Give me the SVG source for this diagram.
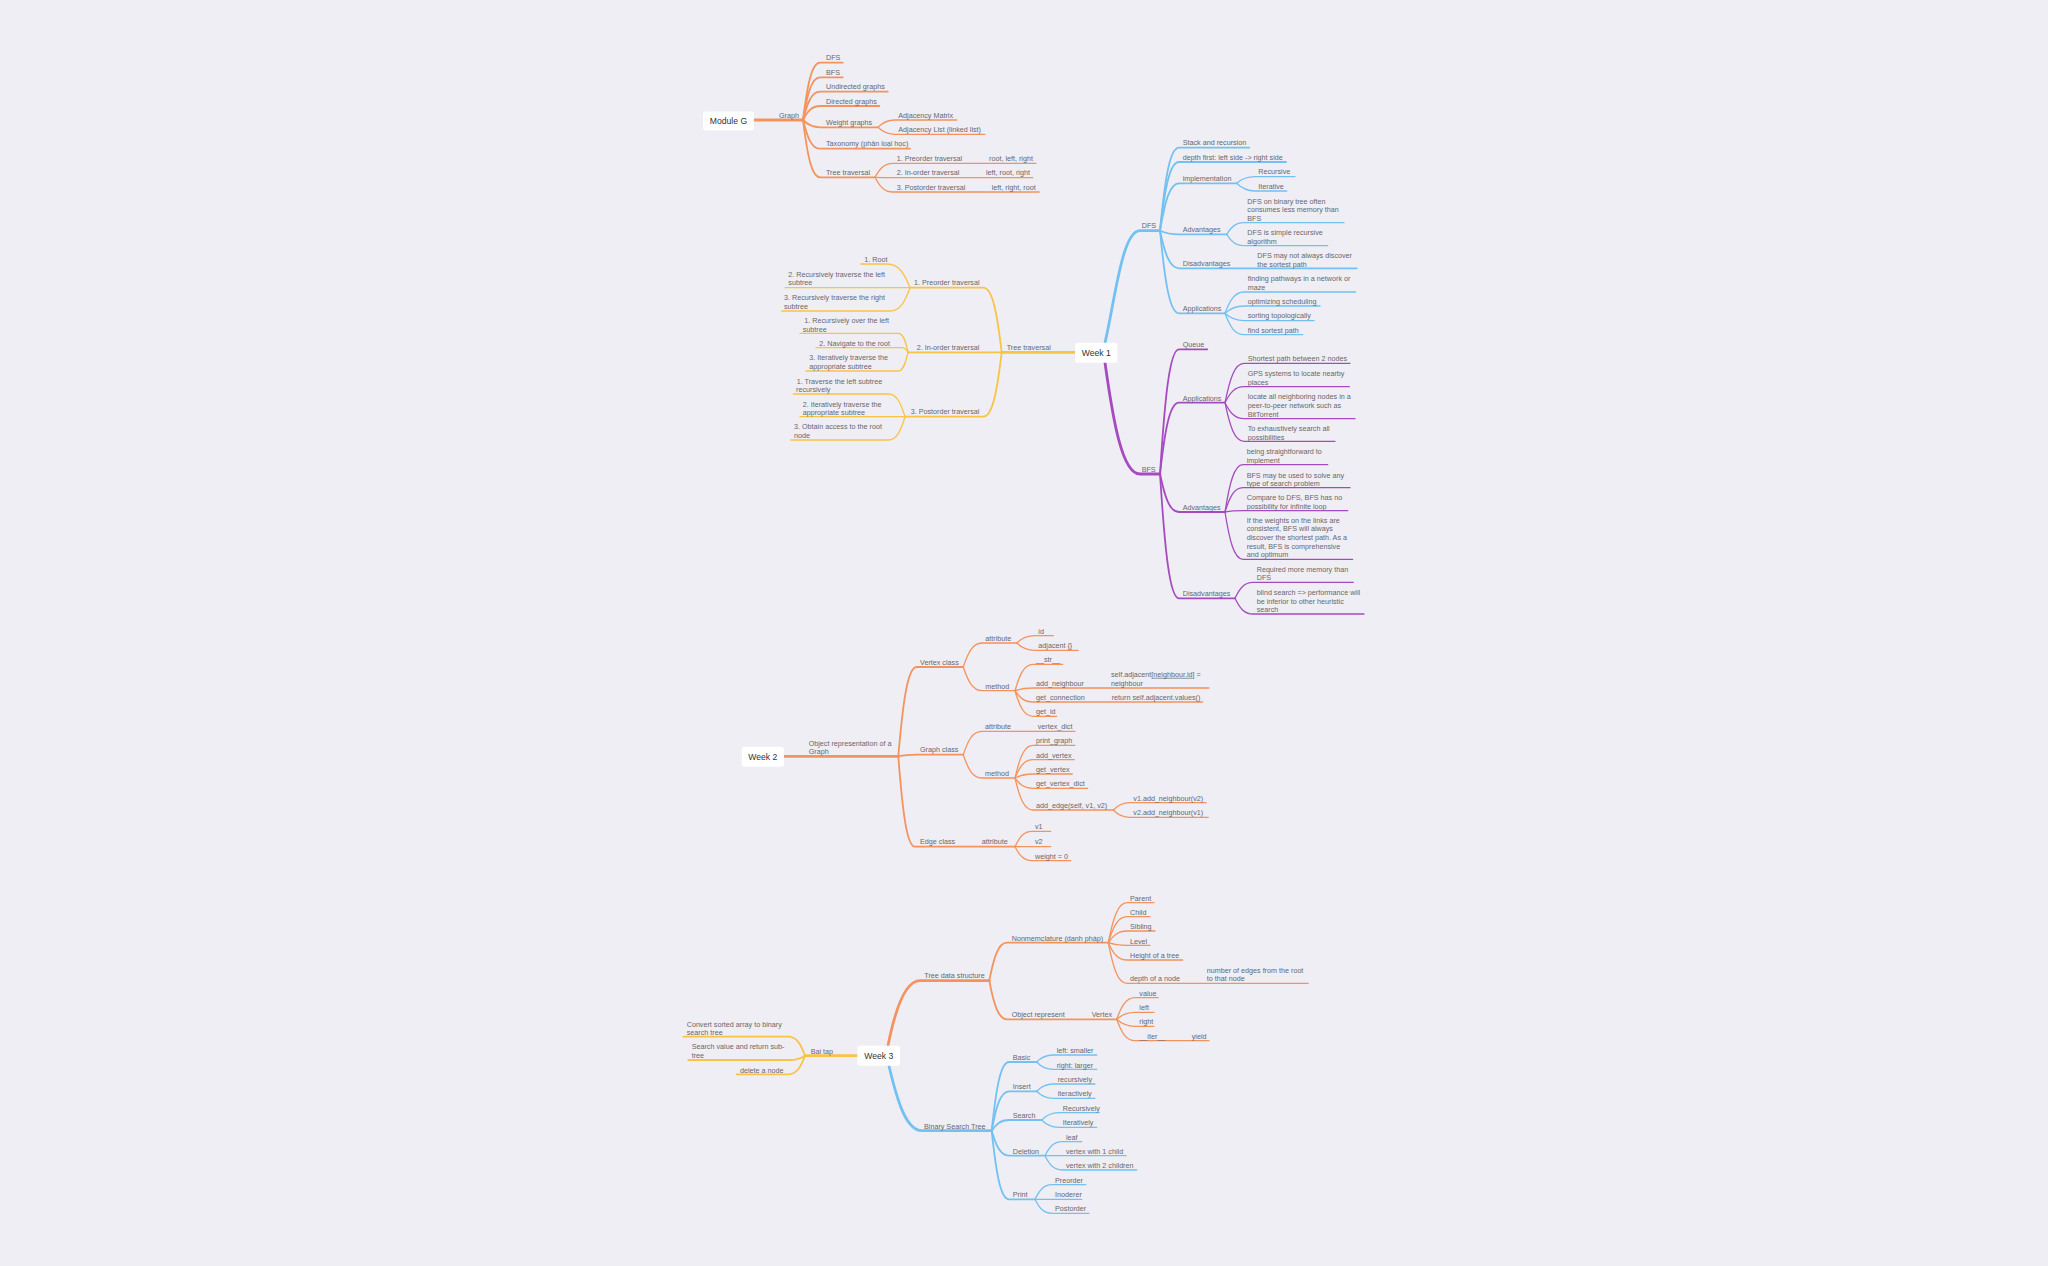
<svg xmlns="http://www.w3.org/2000/svg" width="2048" height="1266" viewBox="0 0 2048 1266">
<style>
.t{font-family:"Liberation Sans",Arial,sans-serif;font-size:7.2px;fill:#67676d}
.wk{font-family:"Liberation Sans",Arial,sans-serif;font-size:8.6px;fill:#333;text-anchor:middle}
.box{fill:#fff}
.c path{fill:none;stroke-linecap:round;stroke-linejoin:round}
.or path{stroke:#F4935D}
.ye path{stroke:#F8C446}
.bl path{stroke:#72C1F1}
.pu path{stroke:#A54BC0}
.w3{stroke-width:2.8}
.w2{stroke-width:1.8}
.w1{stroke-width:1.3}
</style>
<rect width="2048" height="1266" fill="#EFEEF4"/>
<g id="connectors" class="c">
<g class="or">
<path class="w3" d="M754 120 L803 120"/>
<path class="w2" d="M803 120 C807.3 85.6 811.5 62.7 820 62.7 L842.7 62.7"/>
<path class="w2" d="M803 120 C807.3 94.4 811.5 77.3 820 77.3 L842.7 77.3"/>
<path class="w2" d="M803 120 C807.3 103 811.5 91.7 820 91.7 L887.7 91.7"/>
<path class="w2" d="M803 120 C807.3 111.6 811.5 106 820 106 L879.3 106"/>
<path class="w2" d="M803 120 C807.3 124.4 811.5 127.3 820 127.3 L878 127.3"/>
<path class="w2" d="M803 120 C807.3 137.2 811.5 148.7 820 148.7 L910 148.7"/>
<path class="w2" d="M803 120 C807.3 154.4 811.5 177.3 820 177.3 L875 177.3"/>
<path class="w1" d="M878 127.3 C882.3 122.9 886.5 120 895 120 L956.7 120"/>
<path class="w1" d="M878 127.3 C882.3 131.5 886.5 134.3 895 134.3 L985 134.3"/>
<path class="w1" d="M875 177.3 C879.5 168.9 884 163.3 893 163.3 L1036 163.3"/>
<path class="w1" d="M875 177.3 C879.5 177.5 884 177.7 893 177.7 L1032.7 177.7"/>
<path class="w1" d="M875 177.3 C879.5 186.2 884 192 893 192 L1039.3 192"/>
</g>
<g class="ye">
<path class="w3" d="M1075 352.3 L1001.7 352.3"/>
<path class="w2" d="M1001.7 352.3 C997.1 313.5 992.5 287.7 983.3 287.7 L910 287.7"/>
<path class="w2" d="M1001.7 352.3 L908 352.3"/>
<path class="w2" d="M1001.7 352.3 C997.1 390.9 992.5 416.7 983.3 416.7 L905 416.7"/>
<path class="w1" d="M910 287.7 C904.3 273.5 898.7 264 887.3 264 L860.7 264"/>
<path class="w1" d="M910 287.7 L785 287.7"/>
<path class="w1" d="M910 287.7 C905 301.7 900 311 890 311 L781.7 311"/>
<path class="w1" d="M908 352.3 C905.6 340.9 903.2 333.3 898.3 333.3 L800 333.3"/>
<path class="w1" d="M908 352.3 C906.4 349.5 904.9 347.7 901.7 347.7 L816 347.7"/>
<path class="w1" d="M908 352.3 C905.5 363.5 903 371 898 371 L806 371"/>
<path class="w1" d="M905 416.7 C900.8 403.1 896.7 394 888.3 394 L793.3 394"/>
<path class="w1" d="M905 416.7 L800 416.7"/>
<path class="w1" d="M905 416.7 C900.8 430.7 896.7 440 888.3 440 L790.7 440"/>
</g>
<g class="bl">
<path class="w3" d="M1105 342.7 C1115 300 1122 230.7 1140 230.7 L1160 230.7"/>
<path class="w2" d="M1160 230.7 C1164.8 180.9 1169.5 147.7 1179 147.7 L1249.3 147.7"/>
<path class="w2" d="M1160 230.7 C1164.8 189.5 1169.5 162 1179 162 L1286 162"/>
<path class="w2" d="M1160 230.7 C1164.8 202.3 1169.5 183.3 1179 183.3 L1236.7 183.3"/>
<path class="w2" d="M1160 230.7 C1164.8 232.9 1169.5 234.3 1179 234.3 L1226.7 234.3"/>
<path class="w2" d="M1160 230.7 C1164.8 253.3 1169.5 268.3 1179 268.3 L1356.7 268.3"/>
<path class="w2" d="M1160 230.7 C1164.8 280.3 1169.5 313.3 1179 313.3 L1225 313.3"/>
<path class="w1" d="M1236.7 183.3 C1241.3 179.3 1245.9 176.7 1255 176.7 L1295 176.7"/>
<path class="w1" d="M1236.7 183.3 C1241.3 187.9 1245.9 191 1255 191 L1286.7 191"/>
<path class="w1" d="M1226.7 234.3 C1231 227.3 1235.4 222.7 1244 222.7 L1344 222.7"/>
<path class="w1" d="M1226.7 234.3 C1231 241.1 1235.4 245.7 1244 245.7 L1327.7 245.7"/>
<path class="w1" d="M1225 313.3 C1229.8 300.5 1234.5 292 1244 292 L1355.7 292"/>
<path class="w1" d="M1225 313.3 C1229.8 308.9 1234.5 306 1244 306 L1320 306"/>
<path class="w1" d="M1225 313.3 C1229.8 317.7 1234.5 320.7 1244 320.7 L1314 320.7"/>
<path class="w1" d="M1225 313.3 C1229.8 326.1 1234.5 334.7 1244 334.7 L1302.7 334.7"/>
</g>
<g class="pu">
<path class="w3" d="M1105 362.7 C1113 420 1122 474 1140 474 L1160 474"/>
<path class="w2" d="M1160 474 C1164.8 399.2 1169.5 349.3 1179 349.3 L1207.3 349.3"/>
<path class="w2" d="M1160 474 C1164.8 431.2 1169.5 402.7 1179 402.7 L1225 402.7"/>
<path class="w2" d="M1160 474 C1164.8 496.8 1169.5 512 1179 512 L1225 512"/>
<path class="w2" d="M1160 474 C1164.8 548.6 1169.5 598.3 1179 598.3 L1235 598.3"/>
<path class="w1" d="M1225 402.7 C1229.8 379.1 1234.5 363.3 1244 363.3 L1350 363.3"/>
<path class="w1" d="M1225 402.7 C1229.8 393.1 1234.5 386.7 1244 386.7 L1349.3 386.7"/>
<path class="w1" d="M1225 402.7 C1229.8 412.3 1234.5 418.7 1244 418.7 L1355 418.7"/>
<path class="w1" d="M1225 402.7 C1229.8 425.9 1234.5 441.3 1244 441.3 L1335 441.3"/>
<path class="w1" d="M1225 512 C1229.5 483.6 1234 464.7 1243 464.7 L1327.7 464.7"/>
<path class="w1" d="M1225 512 C1229.5 497.4 1234 487.7 1243 487.7 L1350 487.7"/>
<path class="w1" d="M1225 512 C1229.5 511.2 1234 510.7 1243 510.7 L1347.7 510.7"/>
<path class="w1" d="M1225 512 C1229.5 540.4 1234 559.3 1243 559.3 L1352.7 559.3"/>
<path class="w1" d="M1235 598.3 C1239.5 588.7 1244 582.3 1253 582.3 L1353.3 582.3"/>
<path class="w1" d="M1235 598.3 C1239.5 607.7 1244 614 1253 614 L1364 614"/>
</g>
<g class="or">
<path class="w3" d="M784 756.3 L898.3 756.3"/>
<path class="w2" d="M898.3 756.3 C902.9 702.7 907.5 667 916.7 667 L963.3 667"/>
<path class="w2" d="M898.3 756.3 C902.9 755.3 907.5 754.7 916.7 754.7 L963.3 754.7"/>
<path class="w2" d="M898.3 756.3 C902.5 810.5 906.7 846.7 915 846.7 L1015 846.7"/>
<path class="w1" d="M963.3 667 C968 652.6 972.7 643 982 643 L1016.7 643"/>
<path class="w1" d="M963.3 667 C968 681.2 972.7 690.7 982 690.7 L1015 690.7"/>
<path class="w1" d="M1016.7 643 C1021.3 638.6 1025.9 635.7 1035 635.7 L1053.3 635.7"/>
<path class="w1" d="M1016.7 643 C1021.3 647.4 1025.9 650.3 1035 650.3 L1078.3 650.3"/>
<path class="w1" d="M1015 690.7 C1019.5 674.9 1024 664.3 1033 664.3 L1062.7 664.3"/>
<path class="w1" d="M1015 690.7 C1019.5 689.1 1024 688 1033 688 L1209 688"/>
<path class="w1" d="M1015 690.7 C1019.5 697.5 1024 702 1033 702 L1202.7 702"/>
<path class="w1" d="M1015 690.7 C1019.5 706.1 1024 716.3 1033 716.3 L1056.7 716.3"/>
<path class="w1" d="M963.3 754.7 C967.9 740.7 972.5 731.3 981.7 731.3 L1075 731.3"/>
<path class="w1" d="M963.3 754.7 C967.9 768.7 972.5 778 981.7 778 L1015 778"/>
<path class="w1" d="M1015 778 C1019.5 758.4 1024 745.3 1033 745.3 L1075 745.3"/>
<path class="w1" d="M1015 778 C1019.5 767 1024 759.7 1033 759.7 L1074.3 759.7"/>
<path class="w1" d="M1015 778 C1019.5 775.6 1024 774 1033 774 L1072.3 774"/>
<path class="w1" d="M1015 778 C1019.5 784.2 1024 788.3 1033 788.3 L1087.7 788.3"/>
<path class="w1" d="M1015 778 C1019.5 797.2 1024 810 1033 810 L1113.3 810"/>
<path class="w1" d="M1113.3 810 C1117.5 805.6 1121.7 802.7 1130 802.7 L1206 802.7"/>
<path class="w1" d="M1113.3 810 C1117.5 814.4 1121.7 817.3 1130 817.3 L1208.3 817.3"/>
<path class="w1" d="M1015 846.7 C1019.3 837.5 1023.5 831.3 1032 831.3 L1050.7 831.3"/>
<path class="w1" d="M1015 846.7 L1050.7 846.7"/>
<path class="w1" d="M1015 846.7 C1019.3 855.1 1023.5 860.7 1032 860.7 L1070.7 860.7"/>
</g>
<g class="ye">
<path class="w3" d="M857.3 1055.7 L805 1055.7"/>
<path class="w2" d="M805 1055.7 C800.8 1044.3 796.7 1036.7 788.3 1036.7 L683.3 1036.7"/>
<path class="w2" d="M805 1055.7 C801.3 1058.3 797.5 1060 790 1060 L688.3 1060"/>
<path class="w2" d="M805 1055.7 C800.8 1066.9 796.7 1074.3 788.3 1074.3 L736.7 1074.3"/>
</g>
<g class="or">
<path class="w3" d="M888 1045.7 C897 1000 908 980.7 920 980.7 L989.3 980.7"/>
<path class="w2" d="M989.3 980.7 C993.7 957.9 998.2 942.7 1007 942.7 L1108.3 942.7"/>
<path class="w2" d="M989.3 980.7 C993.7 1003.9 998.2 1019.3 1007 1019.3 L1116.7 1019.3"/>
<path class="w1" d="M1108.3 942.7 C1113 918.7 1117.7 902.7 1127 902.7 L1154 902.7"/>
<path class="w1" d="M1108.3 942.7 C1113 927.1 1117.7 916.7 1127 916.7 L1150 916.7"/>
<path class="w1" d="M1108.3 942.7 C1113 935.7 1117.7 931 1127 931 L1155 931"/>
<path class="w1" d="M1108.3 942.7 C1113 944.3 1117.7 945.3 1127 945.3 L1150 945.3"/>
<path class="w1" d="M1108.3 942.7 C1113 953.1 1117.7 960 1127 960 L1182.7 960"/>
<path class="w1" d="M1108.3 942.7 C1113 967.1 1117.7 983.3 1127 983.3 L1308.3 983.3"/>
<path class="w1" d="M1116.7 1019.3 C1121.3 1006.3 1125.9 997.7 1135 997.7 L1158.3 997.7"/>
<path class="w1" d="M1116.7 1019.3 C1121.3 1015.1 1125.9 1012.3 1135 1012.3 L1154 1012.3"/>
<path class="w1" d="M1116.7 1019.3 C1121.3 1023.5 1125.9 1026.3 1135 1026.3 L1154 1026.3"/>
<path class="w1" d="M1116.7 1019.3 C1121.3 1032.1 1125.9 1040.7 1135 1040.7 L1209 1040.7"/>
</g>
<g class="bl">
<path class="w3" d="M889 1066 C897 1100 906 1130.7 922 1130.7 L991.7 1130.7"/>
<path class="w2" d="M991.7 1130.7 C996 1089.5 1000.4 1062 1009 1062 L1036.7 1062"/>
<path class="w2" d="M991.7 1130.7 C996 1107.1 1000.4 1091.3 1009 1091.3 L1036.7 1091.3"/>
<path class="w2" d="M991.7 1130.7 C996 1124.3 1000.4 1120 1009 1120 L1041.7 1120"/>
<path class="w2" d="M991.7 1130.7 C996 1145.7 1000.4 1155.7 1009 1155.7 L1045 1155.7"/>
<path class="w2" d="M991.7 1130.7 C996 1171.9 1000.4 1199.3 1009 1199.3 L1035 1199.3"/>
<path class="w1" d="M1036.7 1062 C1040.8 1057.8 1044.9 1055 1053 1055 L1096.7 1055"/>
<path class="w1" d="M1036.7 1062 C1040.8 1066.4 1044.9 1069.3 1053 1069.3 L1096.7 1069.3"/>
<path class="w1" d="M1036.7 1091.3 C1040.8 1086.9 1044.9 1084 1053 1084 L1095 1084"/>
<path class="w1" d="M1036.7 1091.3 C1040.8 1095.5 1044.9 1098.3 1053 1098.3 L1095 1098.3"/>
<path class="w1" d="M1041.7 1120 C1045.9 1115.6 1050.1 1112.7 1059 1112.7 L1099.3 1112.7"/>
<path class="w1" d="M1041.7 1120 C1045.9 1124.4 1050.1 1127.3 1059 1127.3 L1096.7 1127.3"/>
<path class="w1" d="M1045 1155.7 C1049.3 1147.3 1053.5 1141.7 1062 1141.7 L1081.7 1141.7"/>
<path class="w1" d="M1045 1155.7 L1126 1155.7"/>
<path class="w1" d="M1045 1155.7 C1049.3 1164.3 1053.5 1170 1062 1170 L1136.7 1170"/>
<path class="w1" d="M1035 1199.3 C1039.3 1190.5 1043.5 1184.7 1052 1184.7 L1085.7 1184.7"/>
<path class="w1" d="M1035 1199.3 L1081.7 1199.3"/>
<path class="w1" d="M1035 1199.3 C1039.3 1208.1 1043.5 1213.3 1052 1213.3 L1089 1213.3"/>
</g>
</g>

<g id="module-g"><rect class="box" x="703" y="111.5" width="51" height="19" rx="3"/><text class="wk" x="728.5" y="123.5">Module G</text></g>
<g id="mg-graph"><text class="t" x="779" y="117.5">Graph</text></g>
<g id="mg-dfs"><text class="t" x="826" y="60.2">DFS</text></g>
<g id="mg-bfs"><text class="t" x="826" y="74.8">BFS</text></g>
<g id="mg-undirected"><text class="t" x="826" y="89.2">Undirected graphs</text></g>
<g id="mg-directed"><text class="t" x="826" y="103.5">Directed graphs</text></g>
<g id="mg-weight"><text class="t" x="826" y="124.8">Weight graphs</text></g>
<g id="mg-adjmatrix"><text class="t" x="898.3" y="117.5">Adjacency Matrix</text></g>
<g id="mg-adjlist"><text class="t" x="898.3" y="131.8">Adjacency List (linked list)</text></g>
<g id="mg-taxonomy"><text class="t" x="826" y="146.2">Taxonomy (phân loại học)</text></g>
<g id="mg-tree"><text class="t" x="826" y="174.8">Tree traversal</text></g>
<g id="mg-pre"><text class="t" x="896.7" y="160.8">1. Preorder traversal</text></g>
<g id="mg-pre-v"><text class="t" x="989" y="160.8">root, left, right</text></g>
<g id="mg-in"><text class="t" x="896.7" y="175.2">2. In-order traversal</text></g>
<g id="mg-in-v"><text class="t" x="986" y="175.2">left, root, right</text></g>
<g id="mg-post"><text class="t" x="896.7" y="189.5">3. Postorder traversal</text></g>
<g id="mg-post-v"><text class="t" x="991.7" y="189.5">left, right, root</text></g>

<g id="week1"><rect class="box" x="1075" y="342.7" width="42.3" height="20" rx="3"/><text class="wk" x="1096.2" y="355.8">Week 1</text></g>
<g id="w1-tree"><text class="t" x="1006.7" y="349.8">Tree traversal</text></g>
<g id="w1-pre"><text class="t" x="914" y="285.2">1. Preorder traversal</text></g>
<g id="w1-pre-1"><text class="t" x="864.3" y="261.5">1. Root</text></g>
<g id="w1-pre-2"><text class="t"><tspan x="788.3" y="276.5">2. Recursively traverse the left</tspan><tspan x="788.3" y="285.2">subtree</tspan></text></g>
<g id="w1-pre-3"><text class="t"><tspan x="784" y="299.8">3. Recursively traverse the right</tspan><tspan x="784" y="308.5">subtree</tspan></text></g>
<g id="w1-in"><text class="t" x="916.7" y="349.8">2. In-order traversal</text></g>
<g id="w1-in-1"><text class="t"><tspan x="804.3" y="322.8">1. Recursively over the left</tspan><tspan x="802.7" y="331.5">subtree</tspan></text></g>
<g id="w1-in-2"><text class="t" x="819.3" y="345.5">2. Navigate to the root</text></g>
<g id="w1-in-3"><text class="t"><tspan x="809.3" y="359.8">3. Iteratively traverse the</tspan><tspan x="809.3" y="368.6">appropriate subtree</tspan></text></g>
<g id="w1-post"><text class="t" x="910.7" y="414.2">3. Postorder traversal</text></g>
<g id="w1-post-1"><text class="t"><tspan x="796.7" y="383.5">1. Traverse the left subtree</tspan><tspan x="796" y="391.8">recursively</tspan></text></g>
<g id="w1-post-2"><text class="t"><tspan x="802.7" y="406.5">2. Iteratively traverse the</tspan><tspan x="802.7" y="414.8">appropriate subtree</tspan></text></g>
<g id="w1-post-3"><text class="t"><tspan x="794" y="429.2">3. Obtain access to the root</tspan><tspan x="794" y="437.8">node</tspan></text></g>

<g id="w1-dfs"><text class="t" x="1141.7" y="228.2">DFS</text></g>
<g id="dfs-stack"><text class="t" x="1182.7" y="145.2">Stack and recursion</text></g>
<g id="dfs-depth"><text class="t" x="1182.7" y="159.5">depth first: left side -&gt; right side</text></g>
<g id="dfs-impl"><text class="t" x="1182.7" y="180.8">implementation</text></g>
<g id="dfs-rec"><text class="t" x="1258.3" y="174.2">Recursive</text></g>
<g id="dfs-iter"><text class="t" x="1258.3" y="188.5">Iterative</text></g>
<g id="dfs-adv"><text class="t" x="1182.7" y="231.8">Advantages</text></g>
<g id="dfs-adv-1"><text class="t"><tspan x="1247.3" y="203.5">DFS on binary tree often</tspan><tspan x="1247.3" y="212.1">consumes less memory than</tspan><tspan x="1247.3" y="220.5">BFS</tspan></text></g>
<g id="dfs-adv-2"><text class="t"><tspan x="1247.3" y="235.2">DFS is simple recursive</tspan><tspan x="1247.3" y="243.5">algorithm</tspan></text></g>
<g id="dfs-dis"><text class="t" x="1182.7" y="265.8">Disadvantages</text></g>
<g id="dfs-dis-1"><text class="t"><tspan x="1257.3" y="258">DFS may not always discover</tspan><tspan x="1257.3" y="266.5">the sortest path</tspan></text></g>
<g id="dfs-app"><text class="t" x="1182.7" y="310.8">Applications</text></g>
<g id="dfs-app-1"><text class="t"><tspan x="1247.7" y="280.8">finding pathways in a network or</tspan><tspan x="1247.7" y="289.5">maze</tspan></text></g>
<g id="dfs-app-2"><text class="t" x="1247.7" y="303.7">optimizing scheduling</text></g>
<g id="dfs-app-3"><text class="t" x="1247.7" y="318.3">sorting topologically</text></g>
<g id="dfs-app-4"><text class="t" x="1247.7" y="332.5">find sortest path</text></g>

<g id="w1-bfs"><text class="t" x="1141.7" y="471.5">BFS</text></g>
<g id="bfs-queue"><text class="t" x="1182.7" y="347">Queue</text></g>
<g id="bfs-app"><text class="t" x="1182.7" y="400.5">Applications</text></g>
<g id="bfs-app-1"><text class="t" x="1247.7" y="361.3">Shortest path between 2 nodes</text></g>
<g id="bfs-app-2"><text class="t"><tspan x="1247.7" y="375.8">GPS systems to locate nearby</tspan><tspan x="1247.7" y="384.6">places</tspan></text></g>
<g id="bfs-app-3"><text class="t"><tspan x="1247.7" y="399.2">locate all neighboring nodes in a</tspan><tspan x="1247.7" y="407.8">peer-to-peer network such as</tspan><tspan x="1247.7" y="416.5">BitTorrent</tspan></text></g>
<g id="bfs-app-4"><text class="t"><tspan x="1247.7" y="430.8">To exhaustively search all</tspan><tspan x="1247.7" y="439.5">possibilities</tspan></text></g>
<g id="bfs-adv"><text class="t" x="1182.7" y="509.8">Advantages</text></g>
<g id="bfs-adv-1"><text class="t"><tspan x="1246.7" y="453.8">being straightforward to</tspan><tspan x="1246.7" y="462.5">implement</tspan></text></g>
<g id="bfs-adv-2"><text class="t"><tspan x="1246.7" y="477.5">BFS may be used to solve any</tspan><tspan x="1246.7" y="485.8">type of search problem</tspan></text></g>
<g id="bfs-adv-3"><text class="t"><tspan x="1246.7" y="500.2">Compare to DFS, BFS has no</tspan><tspan x="1246.7" y="508.8">possibility for infinite loop</tspan></text></g>
<g id="bfs-adv-4"><text class="t"><tspan x="1246.7" y="522.8">If the weights on the links are</tspan><tspan x="1246.7" y="531.4">consistent, BFS will always</tspan><tspan x="1246.7" y="540">discover the shortest path. As a</tspan><tspan x="1246.7" y="548.6">result, BFS is comprehensive</tspan><tspan x="1246.7" y="557.2">and optimum</tspan></text></g>
<g id="bfs-dis"><text class="t" x="1182.7" y="596.2">Disadvantages</text></g>
<g id="bfs-dis-1"><text class="t"><tspan x="1256.7" y="571.5">Required more memory than</tspan><tspan x="1256.7" y="580.2">DFS</tspan></text></g>
<g id="bfs-dis-2"><text class="t"><tspan x="1256.7" y="595.2">blind search =&gt; performance will</tspan><tspan x="1256.7" y="603.5">be inferior to other heuristic</tspan><tspan x="1256.7" y="611.8">search</tspan></text></g>

<g id="week2"><rect class="box" x="741.7" y="746.7" width="42.3" height="20" rx="3"/><text class="wk" x="762.8" y="759.8">Week 2</text></g>
<g id="w2-obj"><text class="t"><tspan x="808.7" y="745.8">Object representation of a</tspan><tspan x="808.7" y="754.3">Graph</tspan></text></g>
<g id="w2-vertex"><text class="t" x="920" y="664.5">Vertex class</text></g>
<g id="w2-v-attr"><text class="t" x="985.3" y="641">attribute</text></g>
<g id="w2-v-id"><text class="t" x="1038.3" y="634">id</text></g>
<g id="w2-v-adj"><text class="t" x="1038.3" y="648.3">adjacent {}</text></g>
<g id="w2-v-method"><text class="t" x="985.3" y="688.5">method</text></g>
<g id="w2-v-str"><text class="t" x="1036" y="662.3">__str__</text></g>
<g id="w2-v-addn"><text class="t" x="1036" y="685.8">add_neighbour</text></g>
<g id="w2-v-addn-v"><text class="t"><tspan x="1111" y="676.8">self.adjacent[<tspan text-decoration="underline">neighbour.id</tspan>] =</tspan><tspan x="1111" y="685.5">neighbour</tspan></text></g>
<g id="w2-v-getc"><text class="t" x="1036" y="700">get_connection</text></g>
<g id="w2-v-getc-v"><text class="t" x="1111.7" y="700">return self.adjacent.values()</text></g>
<g id="w2-v-getid"><text class="t" x="1036" y="714.3">get_id</text></g>
<g id="w2-graph"><text class="t" x="920" y="752.3">Graph class</text></g>
<g id="w2-g-attr"><text class="t" x="985" y="729">attribute</text></g>
<g id="w2-g-vd"><text class="t" x="1037.7" y="729">vertex_dict</text></g>
<g id="w2-g-method"><text class="t" x="985" y="775.8">method</text></g>
<g id="w2-g-print"><text class="t" x="1036" y="743.2">print_graph</text></g>
<g id="w2-g-addv"><text class="t" x="1036" y="757.5">add_vertex</text></g>
<g id="w2-g-getv"><text class="t" x="1036" y="771.8">get_vertex</text></g>
<g id="w2-g-getvd"><text class="t" x="1036" y="786.3">get_vertex_dict</text></g>
<g id="w2-g-adde"><text class="t" x="1036" y="807.5">add_edge(self, v1, v2)</text></g>
<g id="w2-g-adde-1"><text class="t" x="1133.3" y="800.5">v1.add_neighbour(v2)</text></g>
<g id="w2-g-adde-2"><text class="t" x="1133.3" y="815">v2.add_neighbour(v1)</text></g>
<g id="w2-edge"><text class="t" x="920" y="843.8">Edge class</text></g>
<g id="w2-e-attr"><text class="t" x="981.7" y="843.8">attribute</text></g>
<g id="w2-e-v1"><text class="t" x="1035" y="829">v1</text></g>
<g id="w2-e-v2"><text class="t" x="1035" y="843.5">v2</text></g>
<g id="w2-e-w"><text class="t" x="1035" y="858.5">weight = 0</text></g>

<g id="week3"><rect class="box" x="857.3" y="1045.7" width="42.7" height="20" rx="3"/><text class="wk" x="878.7" y="1058.8">Week 3</text></g>
<g id="w3-baitap"><text class="t" x="810.7" y="1053.5">Bai tap</text></g>
<g id="w3-bt-1"><text class="t"><tspan x="686.7" y="1026.8">Convert sorted array to binary</tspan><tspan x="686.7" y="1035.2">search tree</tspan></text></g>
<g id="w3-bt-2"><text class="t"><tspan x="691.7" y="1049.2">Search value and return sub-</tspan><tspan x="691.7" y="1057.8">tree</tspan></text></g>
<g id="w3-bt-3"><text class="t" x="740" y="1072.5">delete a node</text></g>
<g id="w3-tds"><text class="t" x="924.3" y="978.2">Tree data structure</text></g>
<g id="w3-nom"><text class="t" x="1011.7" y="940.5">Nonmemclature (danh pháp)</text></g>
<g id="w3-parent"><text class="t" x="1130" y="900.5">Parent</text></g>
<g id="w3-child"><text class="t" x="1130" y="914.8">Child</text></g>
<g id="w3-sibling"><text class="t" x="1130" y="929.2">Sibling</text></g>
<g id="w3-level"><text class="t" x="1130" y="943.5">Level</text></g>
<g id="w3-height"><text class="t" x="1130" y="958">Height of a tree</text></g>
<g id="w3-depth"><text class="t" x="1130" y="981">depth of a node</text></g>
<g id="w3-depth-v"><text class="t"><tspan x="1206.7" y="972.5">number of edges from the root</tspan><tspan x="1206.7" y="981">to that node</tspan></text></g>
<g id="w3-objrep"><text class="t" x="1011.7" y="1016.8">Object represent</text></g>
<g id="w3-vertex"><text class="t" x="1091.7" y="1016.8">Vertex</text></g>
<g id="w3-value"><text class="t" x="1139.3" y="995.5">value</text></g>
<g id="w3-left"><text class="t" x="1139.3" y="1010">left</text></g>
<g id="w3-right"><text class="t" x="1139.3" y="1024.2">right</text></g>
<g id="w3-iter"><text class="t" x="1139.3" y="1038.5">__iter__</text></g>
<g id="w3-yield"><text class="t" x="1191.7" y="1038.5">yield</text></g>
<g id="w3-bst"><text class="t" x="924" y="1128.5">Binary Search Tree</text></g>
<g id="bst-basic"><text class="t" x="1012.7" y="1059.8">Basic</text></g>
<g id="bst-basic-1"><text class="t" x="1056.7" y="1053">left: smaller</text></g>
<g id="bst-basic-2"><text class="t" x="1056.7" y="1067.5">right: larger</text></g>
<g id="bst-insert"><text class="t" x="1012.7" y="1089.2">Insert</text></g>
<g id="bst-insert-1"><text class="t" x="1057.7" y="1081.8">recursively</text></g>
<g id="bst-insert-2"><text class="t" x="1057.7" y="1095.8">iteractively</text></g>
<g id="bst-search"><text class="t" x="1012.7" y="1118.2">Search</text></g>
<g id="bst-search-1"><text class="t" x="1062.7" y="1110.8">Recursively</text></g>
<g id="bst-search-2"><text class="t" x="1062.7" y="1125.2">Iteratively</text></g>
<g id="bst-del"><text class="t" x="1012.7" y="1153.5">Deletion</text></g>
<g id="bst-del-1"><text class="t" x="1066" y="1139.8">leaf</text></g>
<g id="bst-del-2"><text class="t" x="1066" y="1153.5">vertex with 1 child</text></g>
<g id="bst-del-3"><text class="t" x="1066" y="1168">vertex with 2 children</text></g>
<g id="bst-print"><text class="t" x="1012.7" y="1196.8">Print</text></g>
<g id="bst-print-1"><text class="t" x="1055" y="1182.5">Preorder</text></g>
<g id="bst-print-2"><text class="t" x="1055" y="1196.8">Inoderer</text></g>
<g id="bst-print-3"><text class="t" x="1055" y="1211.2">Postorder</text></g>
</svg>
